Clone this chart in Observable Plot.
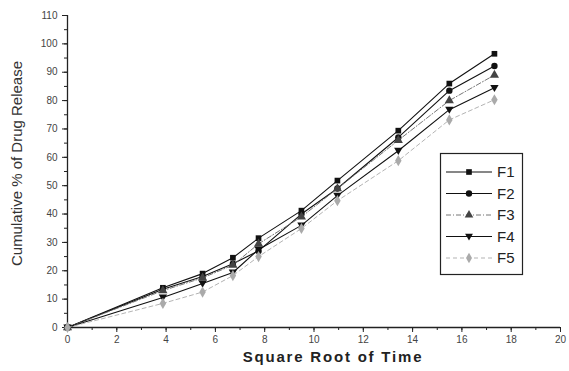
<!DOCTYPE html>
<html><head><meta charset="utf-8">
<script src="https://cdn.jsdelivr.net/npm/d3@7"></script>
<script src="https://cdn.jsdelivr.net/npm/@observablehq/plot@0.6"></script>
<style>
body{margin:0;background:#fff;}
#wrap{position:relative;width:569px;height:371px;font-family:"Liberation Sans",Arial,sans-serif;}
#legend{position:absolute;left:0;top:0;}
</style></head>
<body><div id="wrap"></div>
<script>
const sqrtTime = [0, 3.87, 5.48, 6.71, 7.75, 9.49, 10.95, 13.42, 15.49, 17.32];
const F1 = [0, 14.0, 19.0, 24.6, 31.5, 41.2, 51.8, 69.4, 86.0, 96.5];
const F2 = [0, 13.5, 18.0, 22.5, 27.0, 40.0, 49.0, 67.0, 83.5, 92.2];
const F3 = [0, 13.0, 17.5, 22.0, 29.5, 39.0, 49.0, 66.0, 80.0, 89.0];
const F4 = [0, 10.6, 15.5, 19.4, 27.5, 36.0, 46.5, 62.3, 76.8, 84.5];
const F5 = [0, 8.5, 12.5, 18.3, 25.0, 34.9, 44.7, 58.8, 73.2, 80.3];
const seriesNames = ["F1", "F2", "F3", "F4", "F5"];
const seriesValues = [F1, F2, F3, F4, F5];
const xTicks = [0, 2, 4, 6, 8, 10, 12, 14, 16, 18, 20];
const yTicks = [0, 10, 20, 30, 40, 50, 60, 70, 80, 90, 100, 110];
const xTitle = "Square Root of Time";
const yTitle = "Cumulative % of Drug Release";

const triDown = {draw(ctx, size){const r=Math.sqrt(size/3)*1.2;ctx.moveTo(-r, -r*0.7);ctx.lineTo(r, -r*0.7);ctx.lineTo(0, r*1.0);ctx.closePath();}};
const styles = {
  F1:{stroke:"#111", dash:null, width:1.1, symbol:"square", fill:"#111", r:3.2},
  F2:{stroke:"#111", dash:null, width:1.1, symbol:"circle", fill:"#111", r:3.2},
  F3:{stroke:"#666", dash:"5,2,1,2", width:0.9, symbol:"triangle", fill:"#444", r:3.4},
  F4:{stroke:"#111", dash:null, width:1.1, symbol:triDown, fill:"#111", r:3.4},
  F5:{stroke:"#aaa", dash:"4,3", width:0.9, symbol:"diamond", fill:"#aaa", r:3.4}
};

const rows = [];
seriesNames.forEach((s, i) => sqrtTime.forEach((t, j) => rows.push({series: s, t, v: seriesValues[i][j]})));

const marks = [];
for (const s of seriesNames) {
  const st = styles[s];
  const d = rows.filter(r => r.series === s);
  marks.push(Plot.line(d, {x:"t", y:"v", stroke:st.stroke, strokeWidth:st.width, strokeDasharray:st.dash}));
  marks.push(Plot.dot(d, {x:"t", y:"v", symbol:()=>st.symbol, fill:st.fill, stroke:"none", r:st.r}));
}

const plot = Plot.plot({
  width: 569, height: 371,
  marginLeft: 67, marginRight: 9, marginTop: 15, marginBottom: 44,
  style: {fontFamily: '"Liberation Sans", Arial, sans-serif', background: "#fff"},
  x: {domain: [0, 20]},
  y: {domain: [0, 110]},
  symbol: {type: "identity"},
  marks: [
    Plot.axisX({ticks: d3.range(0, 21, 1), tickSize: 3, text: null, label: null, stroke: "#222"}),
    Plot.axisX({ticks: xTicks, tickSize: 5, tickPadding: 3, fontSize: 10, fill: "#444", stroke: "#222", label: null}),
    Plot.axisY({ticks: d3.range(0, 111, 5), tickSize: 3, text: null, label: null, stroke: "#222"}),
    Plot.axisY({ticks: yTicks, tickSize: 5, tickPadding: 5, fontSize: 10, fill: "#444", stroke: "#222", label: null}),
    Plot.ruleY([0], {stroke: "#222", strokeWidth: 1.3}),
    Plot.ruleX([0], {stroke: "#222", strokeWidth: 1.3}),
    Plot.text([xTitle], {frameAnchor: "bottom", lineAnchor: "middle", textAnchor: "middle", dy: 30, dx: 19, fontSize: 15, fontWeight: "bold", fill: "#222", className: "xtitle"}),
    Plot.text([yTitle], {frameAnchor: "left", textAnchor: "middle", lineAnchor: "middle", dx: -50, dy: -8, rotate: -90, fontSize: 15, fill: "#333"}),
    ...marks
  ]
});
d3.select(plot).selectAll(".xtitle text").attr("letter-spacing", "1.8px");
document.getElementById("wrap").appendChild(plot);

// legend
const lg = d3.select("#wrap").append("svg").attr("id", "legend").attr("width", 569).attr("height", 371)
  .style("font-family", '"Liberation Sans", Arial, sans-serif');
lg.append("rect").attr("x", 440.5).attr("y", 153.5).attr("width", 82).attr("height", 121)
  .attr("fill", "#fff").attr("stroke", "#222").attr("stroke-width", 1.2);
seriesNames.forEach((s, i) => {
  const st = styles[s];
  const y = 172 + i * 21.5;
  lg.append("line").attr("x1", 446).attr("x2", 492).attr("y1", y).attr("y2", y)
    .attr("stroke", st.stroke).attr("stroke-width", st.width).attr("stroke-dasharray", st.dash);
  const sym = typeof st.symbol === "string" ? d3.symbol(({square: d3.symbolSquare, circle: d3.symbolCircle, triangle: d3.symbolTriangle, diamond: d3.symbolDiamond})[st.symbol], 32) : d3.symbol(st.symbol, 32);
  lg.append("path").attr("d", sym()).attr("transform", `translate(469,${y})`).attr("fill", st.fill);
  lg.append("text").attr("x", 497).attr("y", y).attr("dy", "0.35em").attr("font-size", 15).attr("fill", "#222").text(s);
});
</script></body></html>
